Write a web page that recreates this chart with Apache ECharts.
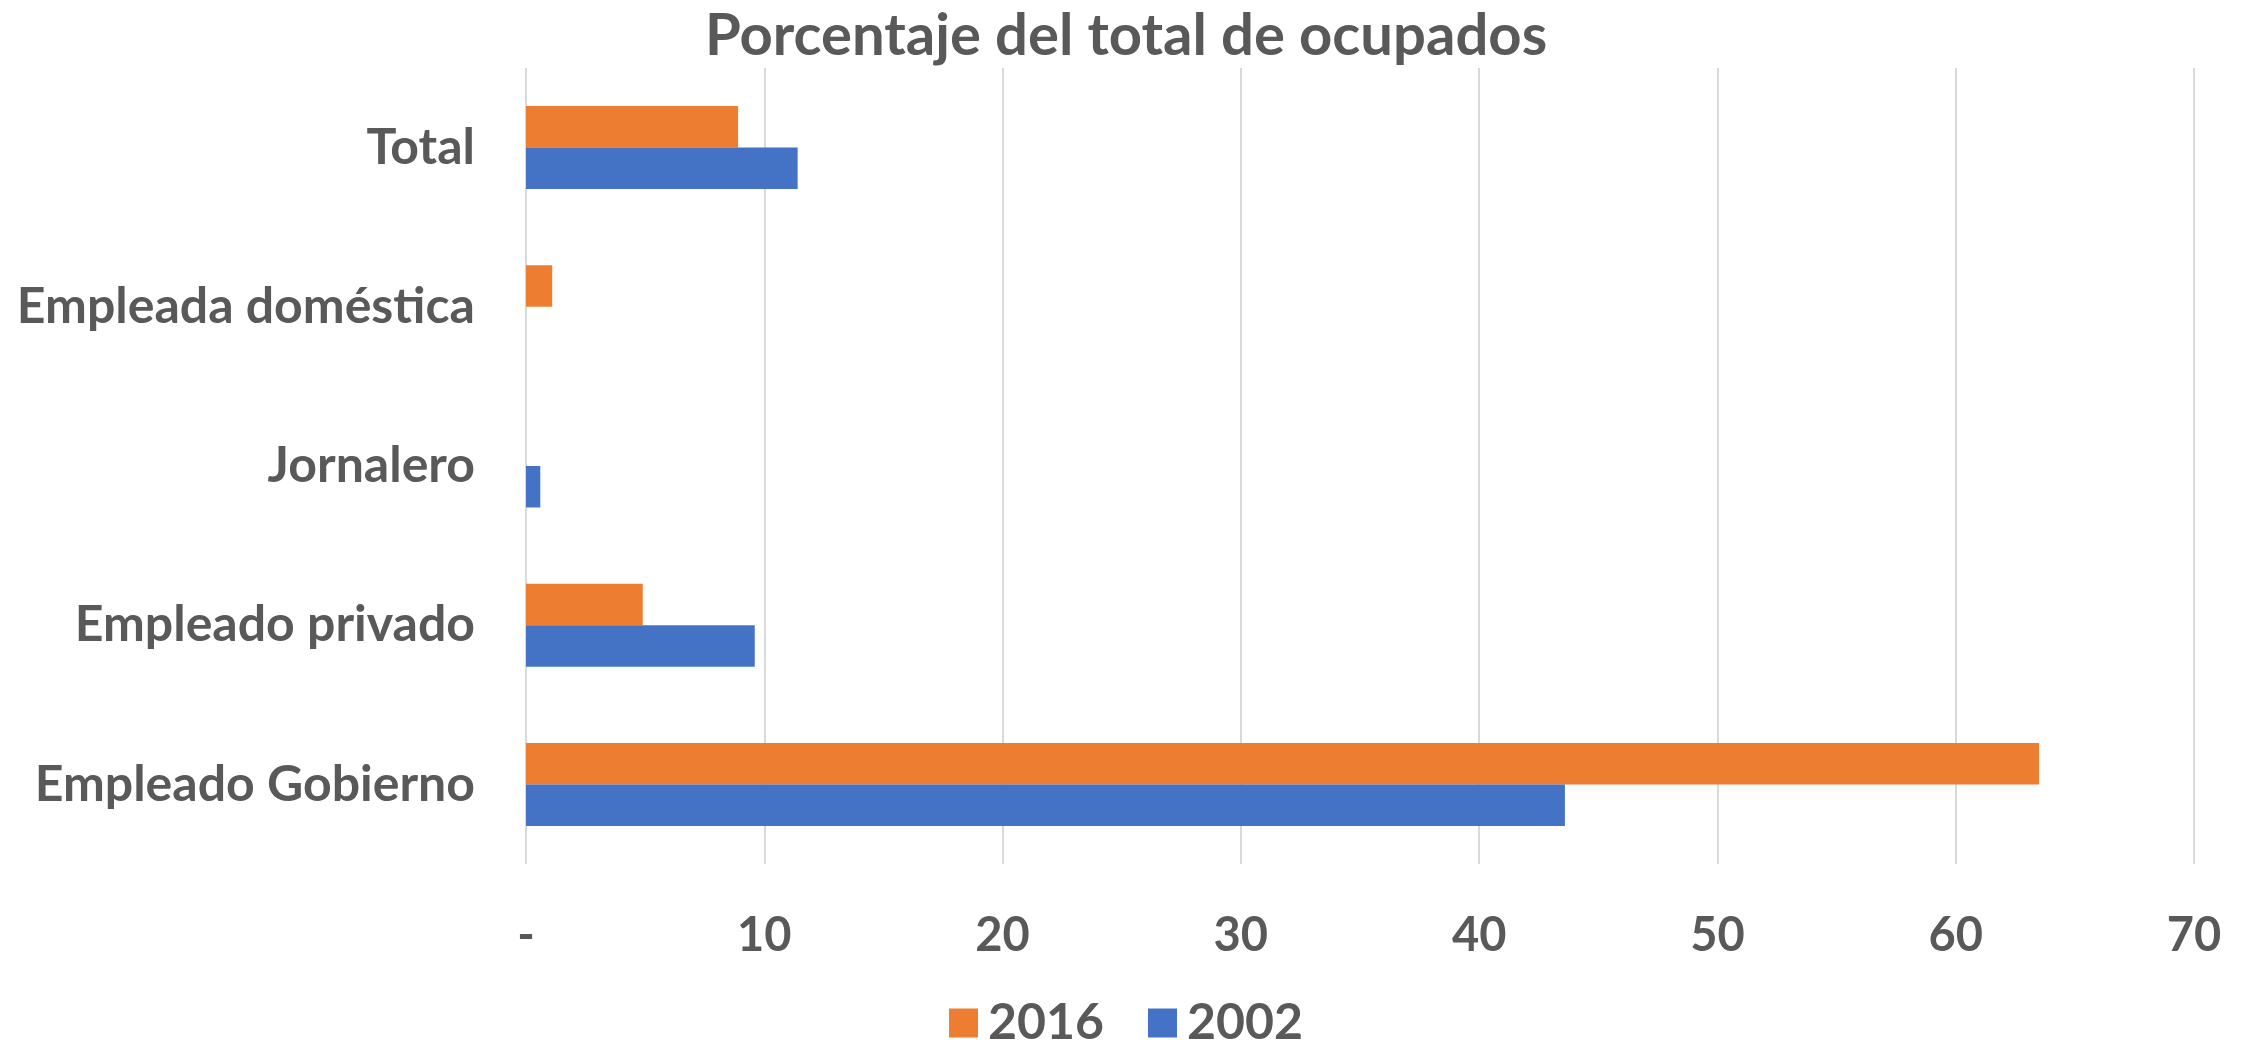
<!DOCTYPE html>
<html>
<head>
<meta charset="utf-8">
<script src="https://cdn.jsdelivr.net/npm/echarts@6/dist/echarts.min.js"></script>
<style>
  html, body { margin: 0; padding: 0; background: #fff; }
  #chart { width: 2252px; height: 1045px; }
</style>
</head>
<body>
<div id="chart"></div>
<script>
// categories from bottom to top (category y axis starts at the bottom)
var categories = ['Empleado Gobierno', 'Empleado privado', 'Jornalero', 'Empleada doméstica', 'Total'];
var values2016 = [63.5, 4.9, 0, 1.1, 8.9];
var values2002 = [43.6, 9.6, 0.6, 0, 11.4];
var xTicks = [0, 10, 20, 30, 40, 50, 60, 70];

var font = 'Lato, "Open Sans", sans-serif';
var txt = '#595959';

var chart = echarts.init(document.getElementById('chart'));
var option = {
  animation: false,
  title: {
    text: 'Porcentaje del total de ocupados',
    left: 'center',
    top: 2,
    textStyle: { fontFamily: font, fontSize: 58, fontWeight: 'bold', color: txt }
  },
  legend: {
    data: ['2016', '2002'],
    bottom: -8,
    left: 'center',
    itemWidth: 29,
    itemHeight: 29,
    itemGap: 44,
    icon: 'rect',
    textStyle: { fontFamily: font, fontSize: 50, fontWeight: 'bold', color: txt, padding: [0, 0, 0, 5] }
  },
  grid: { left: 526, right: 58, top: 68, bottom: 181 },
  xAxis: {
    type: 'value',
    min: xTicks[0],
    max: xTicks[xTicks.length - 1],
    interval: 10,
    axisLine: { show: false },
    axisTick: { show: false },
    splitLine: { lineStyle: { color: '#D9D9D9', width: 2 } },
    axisLabel: {
      margin: 48,
      fontFamily: font, fontSize: 47, fontWeight: 'bold', color: txt,
      formatter: function (v) { return v === 0 ? '-' : v; }
    }
  },
  yAxis: {
    type: 'category',
    data: categories,
    axisLine: { show: false },
    axisTick: { show: false },
    axisLabel: { margin: 51, fontFamily: font, fontSize: 50, fontWeight: 'bold', color: txt }
  },
  series: [
    { name: '2016', type: 'bar', data: values2016, barWidth: 41.5, barGap: '0%', itemStyle: { color: '#ED7D31' } },
    { name: '2002', type: 'bar', data: values2002, barWidth: 41.5, barGap: '0%', itemStyle: { color: '#4472C4' } }
  ]
};
chart.setOption(option);
</script>
</body>
</html>
